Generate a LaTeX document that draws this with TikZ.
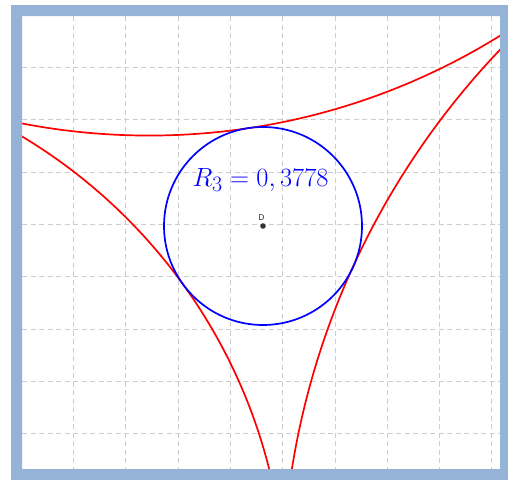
\documentclass[tikz,border=0pt]{standalone}
\usepackage{fontspec}
\newfontfamily\dlabelfont{DejaVu Sans}
\definecolor{framec}{RGB}{149,178,215}
\definecolor{gridc}{RGB}{205,205,205}
\definecolor{ptc}{RGB}{51,51,51}
\begin{document}
\begin{tikzpicture}[x=1pt,y=-1pt,
  gridline/.style={draw=gridc,line width=0.9pt,dash pattern=on 5pt off 3.5pt},
  redarc/.style={draw=red,line width=1.7pt},
  bluearc/.style={draw=blue,line width=1.7pt},
  lbl/.style={text=blue,inner sep=0pt,font=\fontsize{24.88}{30}\selectfont},
  ptlbl/.style={text=ptc,inner sep=0pt}]
\useasboundingbox (0,0) rectangle (508,479);
% grid
\foreach \k in {0,...,8} {
  \draw[gridline] ({73.3+52.33*\k},16) -- ({73.3+52.33*\k},469);
}
\foreach \k in {0,...,7} {
  \draw[gridline] (22,{67.3+52.33*\k}) -- (500,{67.3+52.33*\k});
}
% centres
\coordinate (D) at (263,226);
\coordinate (C1) at (149,-531);
\coordinate (C2) at (-256.3,601.3);
\coordinate (C3) at (1071.9,594.7);
\begin{scope}
  \clip (22,16) rectangle (500,469);
  \draw[redarc] (C1) circle[radius=666.54pt];
  \draw[redarc] (C2) circle[radius=541.72pt];
  \draw[redarc] (C3) circle[radius=789.97pt];
  \draw[bluearc] (D) circle[radius=99pt];
\end{scope}
\node[lbl,anchor=base] (R) at (260.5,186) {\scalebox{1.06}{$R_3 = 0,3778$}};
\fill[ptc] (D) circle[radius=2.8pt];
\node[ptlbl,anchor=base] (Dl) at (261.5,220) {\dlabelfont\fontsize{8}{10}\selectfont D};
% frame
\fill[framec,even odd rule] (11,5) rectangle (512,483) (22,16) rectangle (500,469);
\end{tikzpicture}
\end{document}
